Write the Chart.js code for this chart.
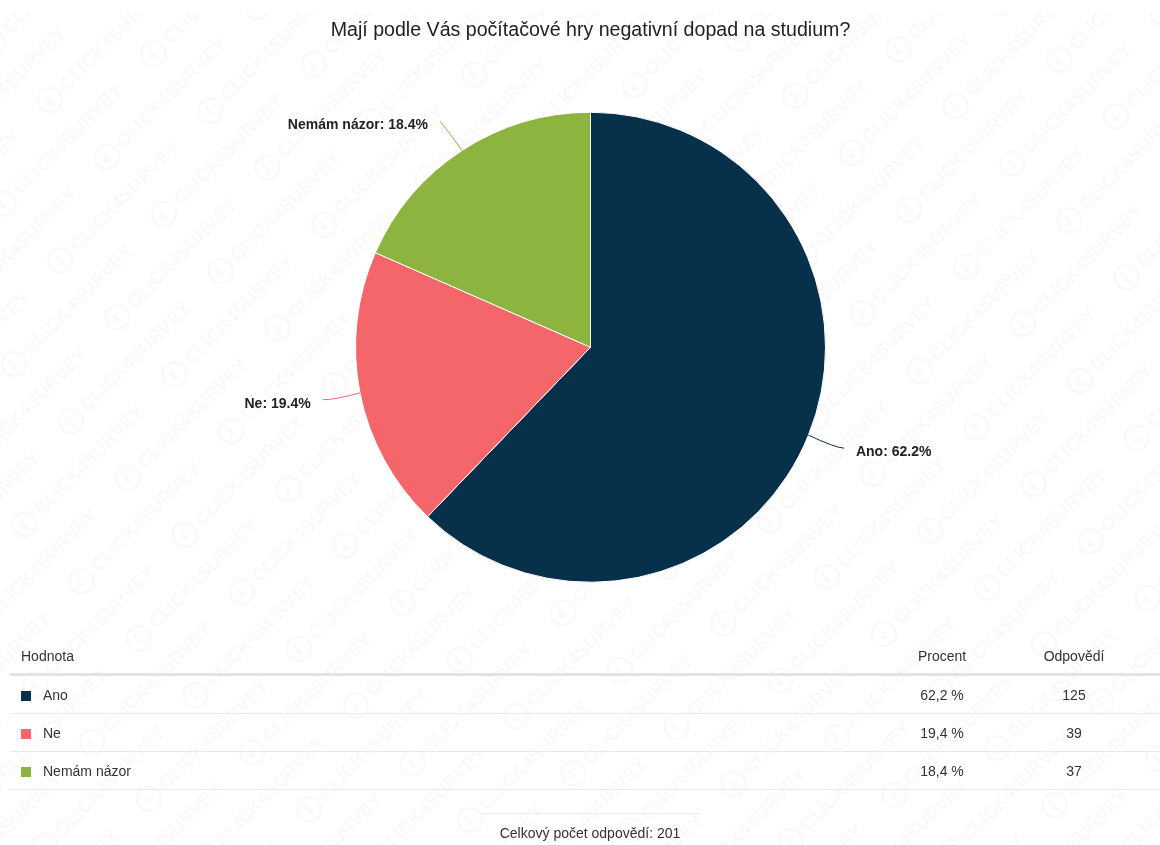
<!DOCTYPE html>
<html lang="cs">
<head>
<meta charset="utf-8">
<title>Počítačové hry a studium</title>
<script src="https://cdn.jsdelivr.net/npm/chart.js@4.4.1/dist/chart.umd.min.js"></script>
<style>
  html, body { margin: 0; padding: 0; background: #fff; }
  body { width: 1160px; height: 845px; position: relative; overflow: hidden;
         font-family: "Liberation Sans", Arial, sans-serif; color: #333; }
  #wm { position: absolute; left: 0; top: 0; }
  #chartBox { position: absolute; left: 0; top: 0; width: 1160px; height: 644px; }
  #tbl { position: absolute; left: 10px; top: 639px; width: 1150px; border-collapse: collapse; font-size: 14px; }
  #tbl th { font-weight: normal; height: 34px; padding: 0; border-bottom: 3px solid #e3e3e3; }
  #tbl td { height: 37px; padding: 0; border-bottom: 1px solid #e9e9e9; }
  #tbl .c1 { text-align: left; padding-left: 11px; }
  #tbl .c2 { width: 120px; text-align: center; }
  #tbl .c3 { width: 144px; padding-right: 14px; text-align: center; }
  .sw { display: inline-block; width: 10px; height: 10px; margin-right: 12px; vertical-align: -1px; }
  #total { position: absolute; left: 480px; width: 220px; top: 813px; border-top: 1px solid #ececec;
           text-align: center; font-size: 14px; padding-top: 11px; }
</style>
</head>
<body>
<canvas id="wm" width="1160" height="845"></canvas>
<div id="chartBox"><canvas id="pie"></canvas></div>
<table id="tbl">
  <thead><tr><th class="c1">Hodnota</th><th class="c2">Procent</th><th class="c3">Odpovědí</th></tr></thead>
  <tbody id="rows"></tbody>
</table>
<div id="total"></div>
<script>
var labels = ['Ano', 'Ne', 'Nemám názor'];
var answers = [125, 39, 37];
var percents = [62.2, 19.4, 18.4];
var colors = ['#07304a', '#f4666a', '#8db43f'];
var titleText = 'Mají podle Vás počítačové hry negativní dopad na studium?';

// faint background watermark
(function () {
    var c = document.getElementById('wm').getContext('2d');
    c.save();
    c.beginPath();
    c.rect(0, 13, 1160, 832);
    c.clip();
    c.fillStyle = 'rgba(0,0,0,0.024)';
    c.strokeStyle = 'rgba(0,0,0,0.024)';
    c.lineWidth = 2.5;
    c.font = 'bold 19px "Liberation Sans", Arial, sans-serif';
    c.textBaseline = 'middle';
    c.rotate(-Math.PI / 4);
    for (var k = -40; k < 40; k++) {
        var v = 106 + k * 40.3;
        var shift = ((k % 2) + 2) % 2 * 106;
        for (var j = -8; j < 10; j++) {
            var u = -35.4 + j * 212 + shift;
            c.beginPath();
            c.arc(u, v, 12, 0, Math.PI * 2);
            c.stroke();
            c.beginPath();
            c.moveTo(u - 1, v - 6);
            c.lineTo(u - 1, v + 4);
            c.lineTo(u - 5, v + 1);
            c.stroke();
            c.fillText('CLICK4SURVEY', u + 18, v + 1);
        }
    }
    c.restore();
})();

// pie labels with curved leader lines
var sliceLabels = {
    id: 'sliceLabels',
    afterDatasetsDraw: function (chart) {
        var ctx = chart.ctx;
        var meta = chart.getDatasetMeta(0);
        ctx.save();
        ctx.font = 'bold 14px "Liberation Sans", Arial, sans-serif';
        ctx.textBaseline = 'middle';
        meta.data.forEach(function (arc, i) {
            var p = arc.getProps(['x', 'y', 'startAngle', 'endAngle', 'outerRadius'], true);
            var mid = (p.startAngle + p.endAngle) / 2;
            var cos = Math.cos(mid), sin = Math.sin(mid);
            var sx = p.x + cos * p.outerRadius, sy = p.y + sin * p.outerRadius;
            var dist = 35;
            var side = cos >= 0 ? 1 : -1;
            var ex = sx + cos * dist + side * 3, ey = sy + sin * dist;
            ctx.strokeStyle = colors[i];
            ctx.lineWidth = 1;
            ctx.beginPath();
            ctx.moveTo(sx, sy);
            ctx.quadraticCurveTo(sx + cos * dist * 0.8, sy + sin * dist * 0.8 + 2, ex, ey);
            ctx.stroke();
            ctx.fillStyle = '#222';
            ctx.textAlign = side > 0 ? 'left' : 'right';
            ctx.fillText(labels[i] + ': ' + percents[i].toFixed(1) + '%', ex + side * 12, ey + 4);
        });
        ctx.restore();
    }
};

new Chart(document.getElementById('pie'), {
    type: 'pie',
    data: {
        labels: labels,
        datasets: [{
            data: answers,
            backgroundColor: colors,
            borderColor: '#ffffff',
            borderWidth: 1
        }]
    },
    options: {
        responsive: true,
        maintainAspectRatio: false,
        animation: false,
        radius: 235,
        layout: { padding: { left: 21 } },
        plugins: {
            legend: { display: false },
            tooltip: { enabled: false },
            title: {
                display: true,
                text: titleText,
                color: '#222',
                font: { family: '"Liberation Sans", Arial, sans-serif', size: 19.6, weight: 'normal' },
                padding: { top: 19, bottom: 8 }
            }
        }
    },
    plugins: [sliceLabels]
});

// results table under the chart
var rows = document.getElementById('rows');
labels.forEach(function (name, i) {
    var tr = document.createElement('tr');
    tr.innerHTML = '<td class="c1"><span class="sw" style="background:' + colors[i] + '"></span>' + name + '</td>' +
        '<td class="c2">' + percents[i].toFixed(1).replace('.', ',') + ' %</td>' +
        '<td class="c3">' + answers[i] + '</td>';
    rows.appendChild(tr);
});
var sum = answers.reduce(function (a, b) { return a + b; }, 0);
document.getElementById('total').textContent = 'Celkový počet odpovědí: ' + sum;
</script>
</body>
</html>
